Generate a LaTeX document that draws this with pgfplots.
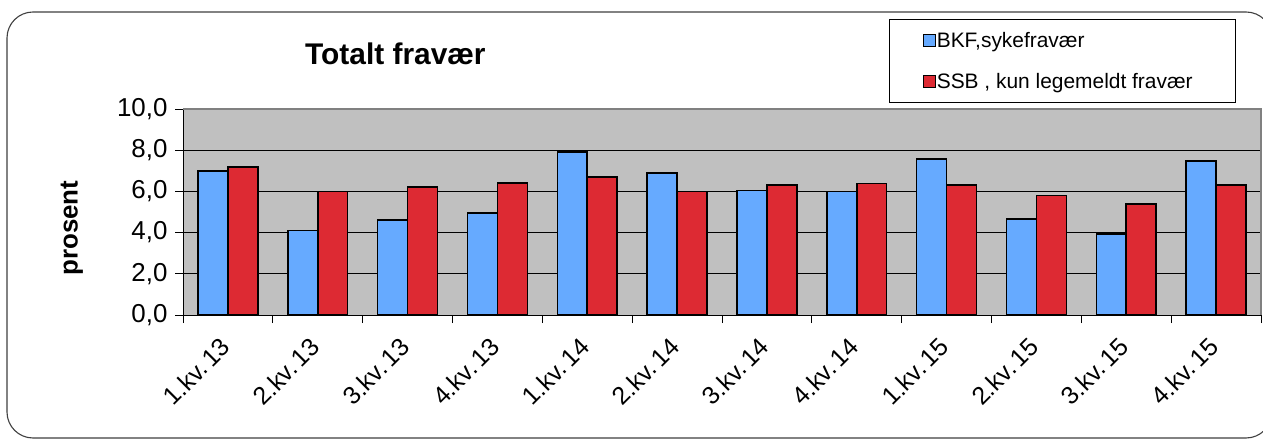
\documentclass[border=0pt]{standalone}
\usepackage{pgfplots}
\pgfplotsset{compat=1.18}
\usepackage{fontspec}
\setmainfont{Liberation Sans}
\definecolor{barblue}{RGB}{102,170,255}
\definecolor{barred}{RGB}{221,42,51}
\definecolor{plotbg}{RGB}{192,192,192}
\definecolor{bordergray}{RGB}{128,128,128}
\begin{document}
\begin{tikzpicture}
\useasboundingbox (0,0) rectangle (1263bp,446bp);
\fill[white] (0,0) rectangle (1263bp,446bp);
\begin{axis}[
  at={(183bp,131bp)}, anchor=south west,
  scale only axis, width=1078bp, height=206bp,
  xmin=-0.5, xmax=11.5, ymin=0, ymax=10,
  ybar=0pt, bar width=0.3333,
  axis background/.style={fill=plotbg},
  axis line style={black, line width=0.8bp},
  ytick={0,2,4,6,8,10},
  yticklabel style={font=\fontsize{26}{30}\selectfont, xshift=-4bp},
  /pgf/number format/.cd, fixed, fixed zerofill, precision=1, use comma, assume math mode=true,
  /pgfplots/.cd,
  xtick={0,...,11},
  xticklabels={1.kv.\hspace{0.15em}13,2.kv.\hspace{0.15em}13,3.kv.\hspace{0.15em}13,4.kv.\hspace{0.15em}13,1.kv.\hspace{0.15em}14,2.kv.\hspace{0.15em}14,3.kv.\hspace{0.15em}14,4.kv.\hspace{0.15em}14,1.kv.\hspace{0.15em}15,2.kv.\hspace{0.15em}15,3.kv.\hspace{0.15em}15,4.kv.\hspace{0.15em}15},
  xticklabel style={font=\fontsize{25}{30}\selectfont, xshift=-9bp, yshift=-10bp, rotate=45, anchor=north east, inner sep=2bp},
  major x tick style={draw=none},
  minor xtick={-0.5,0.5,...,11.5},
  minor x tick style={black, line width=0.8bp},
  minor tick length=8bp,
  major tick length=8bp,
  tick align=outside,
  xtick pos=bottom, ytick pos=left,
  ytick style={black, line width=0.8bp},
  ymajorgrids,
  major grid style={black, line width=0.9bp},
  title={\textbf{Totalt fravær}},
  title style={at={(0.197,1.24)}, anchor=center, font=\fontsize{30}{34}\selectfont},
  ylabel={\textbf{prosent}},
  every axis y label/.style={at={(-0.103,0.422)}, rotate=90, anchor=center, font=\fontsize{26}{30}\selectfont},
  legend style={at={(0.655,1.437)}, anchor=north west, draw=black, line width=0.9bp, fill=white,
    font=\fontsize{21}{25}\selectfont, inner xsep=33bp, inner ysep=11bp, row sep=20bp,
    nodes={inner xsep=1bp}},
  legend cell align=left,
  legend image code/.code={\draw[#1, line width=1.3bp, draw=black] (0bp,-6bp) rectangle (12bp,6bp);},
  after end axis/.code={\draw[bordergray, line width=2.2bp] (rel axis cs:0,1) -- (rel axis cs:1,1) -- (rel axis cs:1,0);},
]
\addplot[fill=barblue, draw=black, line width=1.6bp] coordinates {
 (0,7.0) (1,4.1) (2,4.6) (3,4.95) (4,7.9) (5,6.9) (6,6.05) (7,6.0) (8,7.57) (9,4.65) (10,3.92) (11,7.47)};
\addplot[fill=barred, draw=black, line width=1.6bp] coordinates {
 (0,7.18) (1,6.0) (2,6.2) (3,6.4) (4,6.7) (5,6.0) (6,6.3) (7,6.38) (8,6.3) (9,5.8) (10,5.38) (11,6.3)};
\legend{{BKF,sykefravær}, {\makebox[265bp][l]{SSB , kun legemeldt fravær}}}
\end{axis}
\draw[rounded corners=26bp, line width=1.1bp, black!75] (7bp,8bp) rectangle (1272bp,434bp);
\end{tikzpicture}
\end{document}
